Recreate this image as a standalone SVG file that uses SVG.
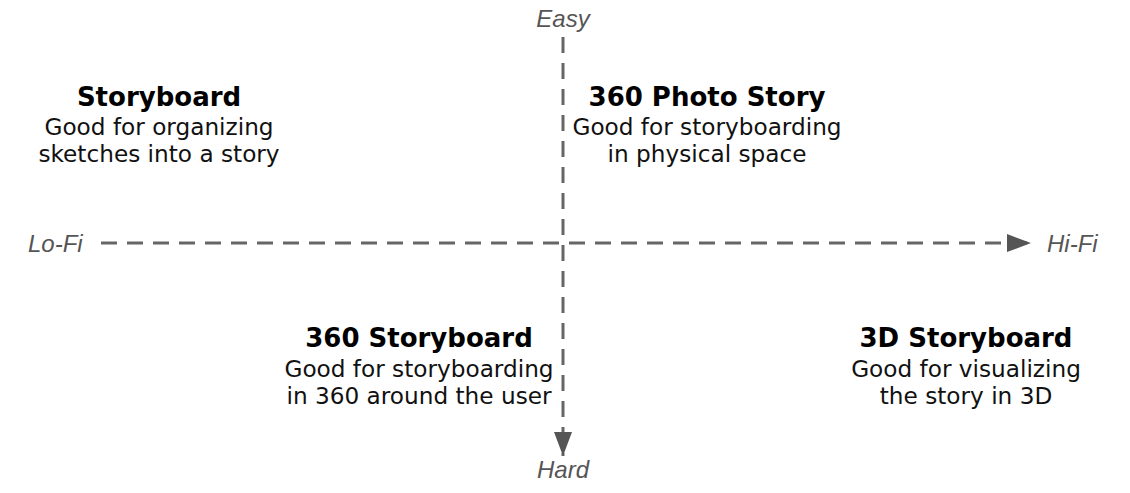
<svg xmlns="http://www.w3.org/2000/svg" width="1130" height="493" viewBox="0 0 1130 493">
<defs>
<style>
.t{font-family:"DejaVu Sans",Verdana,sans-serif;font-weight:bold;font-size:26px;fill:#000;text-anchor:middle}
.b{font-family:"DejaVu Sans",Verdana,sans-serif;font-size:23.2px;fill:#111;text-anchor:middle}
.ax{font-family:"Liberation Sans",Arial,sans-serif;font-style:italic;font-size:24px;fill:#555}
.axis{stroke:#666;stroke-width:3;stroke-dasharray:16 10;fill:none}
</style>
<marker id="ah" markerWidth="24" markerHeight="18" refX="24" refY="9" orient="auto" markerUnits="userSpaceOnUse">
<path d="M0,0 L24,9 L0,18 Z" fill="#555"/>
</marker>
</defs>
<rect width="1130" height="493" fill="#fff"/>
<g id="connectors">
<line class="axis" x1="101" y1="243" x2="1031" y2="243" marker-end="url(#ah)"/>
<line class="axis" x1="563" y1="37" x2="563" y2="456" marker-end="url(#ah)"/>
</g>
<g id="axis-labels">
<text class="ax" x="563" y="27" text-anchor="middle">Easy</text>
<text class="ax" x="563" y="478" text-anchor="middle">Hard</text>
<text class="ax" x="28" y="252">Lo-Fi</text>
<text class="ax" x="1047" y="252">Hi-Fi</text>
</g>
<g id="storyboard">
<text class="t" x="159" y="106">Storyboard</text>
<text class="b" x="159" y="135">Good for organizing</text>
<text class="b" x="159" y="162">sketches into a story</text>
</g>
<g id="photo-story">
<text class="t" x="707" y="106">360 Photo Story</text>
<text class="b" x="707" y="135">Good for storyboarding</text>
<text class="b" x="707" y="162">in physical space</text>
</g>
<g id="storyboard-360">
<text class="t" x="419" y="347">360 Storyboard</text>
<text class="b" x="419" y="377">Good for storyboarding</text>
<text class="b" x="419" y="404">in 360 around the user</text>
</g>
<g id="storyboard-3d">
<text class="t" x="966" y="347">3D Storyboard</text>
<text class="b" x="966" y="377">Good for visualizing</text>
<text class="b" x="966" y="404">the story in 3D</text>
</g>
</svg>
